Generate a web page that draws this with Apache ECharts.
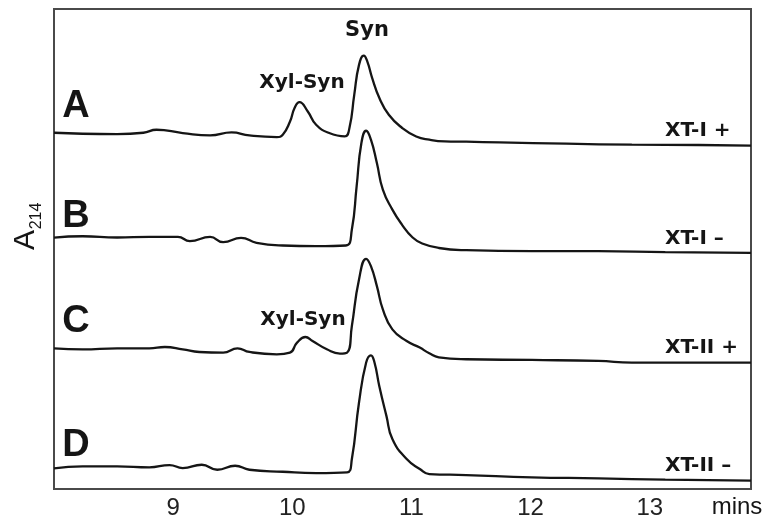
<!DOCTYPE html>
<html>
<head>
<meta charset="utf-8">
<title>A214 chromatograms</title>
<script src="https://cdn.jsdelivr.net/npm/echarts@6/dist/echarts.min.js"></script>
<style>
  html, body { margin: 0; padding: 0; background: #fff; }
  #main { width: 771px; height: 520px; }
</style>
</head>
<body>
<div id="main"></div>
<script>
// retention time (mins) and signal above each trace's baseline
var timeA = [8.00, 8.24, 8.53, 8.75, 8.86, 9.08, 9.31, 9.49, 9.64, 9.87, 9.92, 9.98, 10.02, 10.06, 10.13, 10.20, 10.31, 10.44, 10.48, 10.52, 10.56, 10.60, 10.63, 10.67, 10.73, 10.81, 10.92, 11.04, 11.15, 11.28, 11.46, 11.74, 12.30, 12.85, 13.41, 13.85];
var sigA = [0, -1, -1.3, 0, 3, -0.3, -2.7, 0.3, -2.7, -4.3, -2, 11, 25, 30.7, 21.3, 8, -0.3, -3.7, 5, 38, 68, 77.3, 71.3, 55, 35, 18, 5, -3.7, -7, -8.7, -9, -9.7, -11, -12, -12.3, -13];

var timeB = [8.00, 8.24, 8.53, 8.80, 9.04, 9.14, 9.31, 9.42, 9.57, 9.70, 9.92, 10.20, 10.45, 10.50, 10.54, 10.58, 10.62, 10.66, 10.71, 10.76, 10.84, 10.92, 11.01, 11.09, 11.23, 11.46, 12.01, 12.57, 13.13, 13.85];
var sigB = [0, 1.3, 0, 0.7, 0.7, -3.7, 0.7, -4.7, -0.3, -5.3, -8, -8.7, -8, 8, 51.3, 94.7, 107, 98, 74.7, 48, 28, 13, 0, -6, -10.5, -12.7, -13.7, -13.7, -14.7, -15.3];

var timeC = [8.00, 8.24, 8.53, 8.80, 8.93, 9.08, 9.22, 9.42, 9.54, 9.64, 9.87, 9.98, 10.04, 10.11, 10.17, 10.29, 10.40, 10.46, 10.50, 10.56, 10.62, 10.66, 10.71, 10.76, 10.84, 10.96, 11.07, 11.15, 11.23, 11.46, 12.01, 12.57, 12.85, 13.85];
var sigC = [0, -1, 0, 0, 1.3, -1, -3.7, -4.3, 0, -3.7, -6, -4.3, 5.7, 11.3, 7.3, -1, -5.3, -4.3, 22.3, 69, 89.7, 82.3, 62.3, 39, 19, 7.3, 0.7, -5, -9, -11, -11.7, -12.7, -14.3, -14.3];

var timeD = [8.00, 8.24, 8.53, 8.80, 8.97, 9.08, 9.24, 9.37, 9.52, 9.64, 9.92, 10.20, 10.46, 10.50, 10.56, 10.62, 10.66, 10.69, 10.73, 10.79, 10.84, 10.96, 11.07, 11.15, 11.46, 12.01, 12.57, 13.13, 13.85];
var sigD = [-1.3, 0.7, 0.7, -0.3, 2, -1, 2.3, -2.7, 1.3, -2.7, -4.7, -6, -5.3, 8, 64.7, 104.7, 112, 104.7, 81.3, 51.3, 28, 8, -2, -7, -8, -10.3, -11.3, -12.7, -13.7];

// vertical offset of each trace in the stack
var traceNames = ['A', 'B', 'C', 'D'];
var traceOffsets = [357, 252, 141, 22];
var sampleLabels = ['XT-I +', 'XT-I \u2013', 'XT-II +', 'XT-II \u2013'];
var xTicks = [9, 10, 11, 12, 13];

var myChart = echarts.init(document.getElementById('main'), null, { renderer: 'canvas' });

function pairs(times, sig, offset) {
    var out = [];
    for (var i = 0; i < times.length; i++) {
        out.push([times[i], offset + sig[i]]);
    }
    return out;
}

var traces = [[timeA, sigA], [timeB, sigB], [timeC, sigC], [timeD, sigD]];
var series = [];
for (var i = 0; i < traces.length; i++) {
    series.push({
        name: traceNames[i],
        type: 'line',
        showSymbol: false,
        smooth: 0.5,
        animation: false,
        lineStyle: { color: '#151515', width: 2.3 },
        data: pairs(traces[i][0], traces[i][1], traceOffsets[i])
    });
}

var bold = 'DejaVu Sans';
function txt(text, x, y, size, opts) {
    opts = opts || {};
    return {
        type: 'text',
        x: x,
        y: y,
        rotation: opts.rotation || 0,
        style: {
            text: text,
            fontFamily: opts.family || bold,
            fontWeight: opts.weight || 'bold',
            fontSize: size,
            fill: '#151515',
            align: opts.align || 'center',
            verticalAlign: 'middle'
        }
    };
}

var letterY = [107, 217, 322, 446];
var sampleY = [131, 239, 348, 466];
var graphics = [];
for (var k = 0; k < 4; k++) {
    graphics.push(txt(traceNames[k], 76, letterY[k], 38, { family: 'Liberation Sans' }));
    graphics.push(txt(sampleLabels[k], 665, sampleY[k], 20, { align: 'left' }));
}
graphics.push(txt('Syn', 367, 31, 21));
graphics.push(txt('Xyl-Syn', 302, 83, 20));
graphics.push(txt('Xyl-Syn', 303, 320, 20));
graphics.push(txt('mins', 737, 507, 24, { family: 'Liberation Sans', weight: 'normal' }));
// y axis title A214 (subscript drawn separately)
graphics.push(txt('A', 26, 240, 30, { family: 'Liberation Sans', weight: 'normal', rotation: Math.PI / 2 }));
graphics.push(txt('214', 37, 216, 16, { family: 'Liberation Sans', weight: 'normal', rotation: Math.PI / 2 }));

var option = {
    backgroundColor: '#fff',
    animation: false,
    grid: {
        left: 54, right: 20, top: 9, bottom: 30,
        show: true,
        borderColor: '#4a4a4a',
        borderWidth: 2
    },
    xAxis: {
        type: 'value',
        min: 8,
        max: 13.85,
        interval: 1,
        axisLine: { show: false },
        axisTick: { show: false },
        splitLine: { show: false },
        axisLabel: {
            showMinLabel: false,
            showMaxLabel: false,
            margin: 7,
            fontFamily: 'Liberation Sans',
            fontSize: 24,
            color: '#222',
            formatter: function (v) {
                return xTicks.indexOf(v) >= 0 ? String(v) : '';
            }
        }
    },
    yAxis: {
        type: 'value',
        min: 0,
        max: 481,
        show: false
    },
    graphic: graphics,
    series: series
};

myChart.setOption(option, true);
</script>
</body>
</html>
